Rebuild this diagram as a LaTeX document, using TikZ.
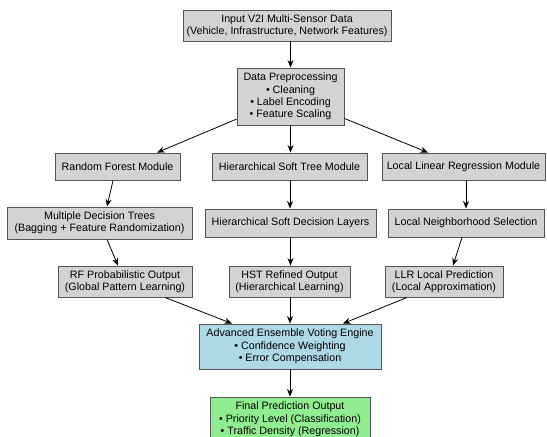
\documentclass[tikz,border=0pt]{standalone}
\usepackage{fontspec}
\setmainfont{Liberation Sans}
\usetikzlibrary{arrows.meta}
\definecolor{boxgray}{HTML}{D3D3D3}
\definecolor{boxblue}{HTML}{ADD8E6}
\definecolor{boxgreen}{HTML}{90EE90}
\definecolor{edgegray}{HTML}{555555}
\begin{document}
\begin{tikzpicture}[x=1pt,y=-1pt,
  box/.style={draw=edgegray,line width=0.9pt,fill=boxgray,rectangle,inner sep=0pt,align=center,
    font=\fontsize{10.7}{12.3}\selectfont},
  conn/.style={-{Stealth[length=7.5pt,width=6pt]},line width=0.8pt,black}]
\useasboundingbox (0,0) rectangle (547,437);
\node[box,minimum width=208,minimum height=31] (top) at (287,25.5) {Input V2I Multi-Sensor Data\\(Vehicle, Infrastructure, Network Features)};
\node[box,minimum width=107,minimum height=57] (pre) at (290.5,96.5) {Data Preprocessing\\\textbullet{} Cleaning\\\textbullet{} Label Encoding\\\textbullet{} Feature Scaling};
\node[box,minimum width=125,minimum height=27] (rfm) at (117.5,166.5) {Random Forest Module};
\node[box,minimum width=155,minimum height=27] (hstm) at (289.5,166.5) {Hierarchical Soft Tree Module};
\node[box,minimum width=163,minimum height=27] (llrm) at (463.5,166.5) {Local Linear Regression Module};
\node[box,minimum width=185,minimum height=32] (mdt) at (99.5,223) {Multiple Decision Trees\\(Bagging + Feature Randomization)};
\node[box,minimum width=171,minimum height=28] (hsdl) at (290.5,223) {Hierarchical Soft Decision Layers};
\node[box,minimum width=156,minimum height=28] (lns) at (466,223) {Local Neighborhood Selection};
\node[box,minimum width=134,minimum height=31] (rfo) at (125,281.5) {RF Probabilistic Output\\(Global Pattern Learning)};
\node[box,minimum width=121,minimum height=31] (hsto) at (289.5,281.5) {HST Refined Output\\(Hierarchical Learning)};
\node[box,minimum width=118,minimum height=31] (llro) at (444,281.5) {LLR Local Prediction\\(Local Approximation)};
\node[box,fill=boxblue,minimum width=182,minimum height=45] (ens) at (290,346.5) {Advanced Ensemble Voting Engine\\\textbullet{} Confidence Weighting\\\textbullet{} Error Compensation};
\node[box,fill=boxgreen,minimum width=160,minimum height=45] (fin) at (290,419.5) {Final Prediction Output\\\textbullet{} Priority Level (Classification)\\\textbullet{} Traffic Density (Regression)};
\draw[conn] (pre.north |- top.south) -- (pre.north);
\draw[conn] (pre) -- ([xshift=39.5]rfm.north);
\draw[conn] (pre.south) -- (pre.south |- hstm.north);
\draw[conn] (pre) -- ([xshift=-35.5]llrm.north);
\draw[conn] ([xshift=-4.5]rfm.south) -- ([xshift=7.5]mdt.north);
\draw[conn] ([xshift=7.5]mdt.south) -- ([xshift=-7]rfo.north);
\draw[conn] ([xshift=40]rfo.south) -- ([xshift=-58]ens.north);
\draw[conn] ([xshift=0.5]hstm.south) -- ([xshift=0.5]hstm.south |- hsdl.north);
\draw[conn] (hsdl.south) -- (hsdl.south |- hsto.north);
\draw[conn] (hsto.south -| ens.north) -- (ens.north);
\draw[conn] (lns.north |- llrm.south) -- (lns.north);
\draw[conn] ([xshift=-4]lns.south) -- ([xshift=9]llro.north);
\draw[conn] ([xshift=-37]llro.south) -- ([xshift=53]ens.north);
\draw[conn] (ens.south) -- (fin.north);
\end{tikzpicture}
\end{document}
